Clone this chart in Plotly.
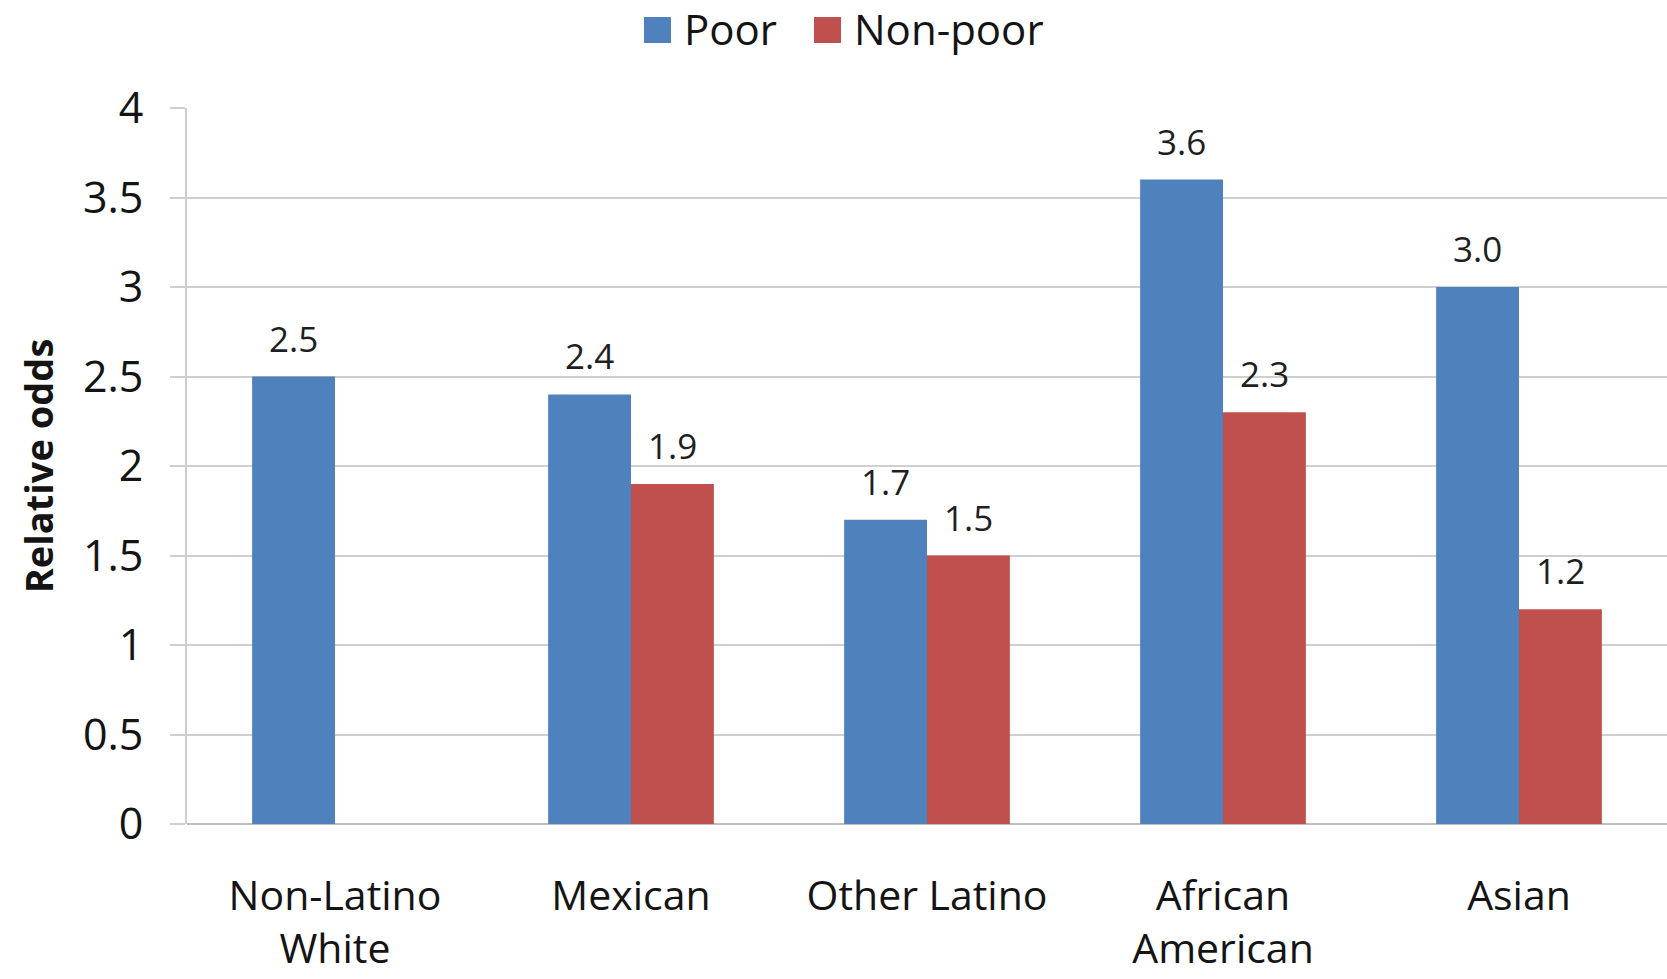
import plotly.graph_objects as go

# Relative odds by group and poverty status
categories = ["Non-Latino<br>White", "Mexican", "Other Latino", "African<br>American", "Asian"]
poor = [2.5, 2.4, 1.7, 3.6, 3.0]
non_poor = [None, 1.9, 1.5, 2.3, 1.2]
series_names = ["Poor", "Non-poor"]
y_ticks = [0, 0.5, 1, 1.5, 2, 2.5, 3, 3.5, 4]

BLUE = "#4F81BD"
RED = "#C0504D"
GRID = "#CFCFCF"
FONT = "Open Sans"
BARGAP = 0.44

W, H = 1667, 979
M = dict(l=187, r=0, t=108, b=155)

fig = go.Figure()
fig.add_trace(go.Bar(x=list(range(len(categories))), y=poor, name=series_names[0],
                     marker=dict(color=BLUE, line=dict(width=0))))
fig.add_trace(go.Bar(x=list(range(len(categories))), y=non_poor, name=series_names[1],
                     marker=dict(color=RED, line=dict(width=0))))

# value labels above each bar, placed at the bar centres of the grouped layout
bar_w = (1 - BARGAP) / 2
annotations = []
for values, off in ((poor, -bar_w / 2), (non_poor, bar_w / 2)):
    for i, v in enumerate(values):
        if v is None:
            continue
        annotations.append(dict(x=i + off, y=v, xref="x", yref="y", text=f"{v:.1f}",
                                showarrow=False, yanchor="bottom", yshift=13,
                                font=dict(family=FONT, size=35, color="#1f1f1f")))

# legend row across the top
pw, ph = W - M["l"] - M["r"], H - M["t"] - M["b"]
def px(x):
    return (x - M["l"]) / pw
def py(y):
    return (H - M["b"] - y) / ph

shapes = []
legend_items = [(series_names[0], BLUE, 644, 682), (series_names[1], RED, 814, 852)]
for name, color, sx, tx in legend_items:
    shapes.append(dict(type="rect", xref="paper", yref="paper",
                       x0=px(sx), x1=px(sx + 27), y0=py(43), y1=py(17),
                       fillcolor=color, line=dict(width=0)))
    annotations.append(dict(x=px(tx), y=py(29), xref="paper", yref="paper", text=name,
                            showarrow=False, xanchor="left", yanchor="middle",
                            font=dict(family=FONT, size=42, color="#141414")))

fig.update_layout(
    width=W, height=H,
    margin=M,
    paper_bgcolor="white", plot_bgcolor="white",
    barmode="group", bargap=BARGAP, bargroupgap=0,
    showlegend=False,
    font=dict(family=FONT, color="#141414"),
    annotations=annotations,
    shapes=shapes,
)
fig.update_xaxes(
    tickmode="array", tickvals=list(range(len(categories))), ticktext=categories,
    range=[-0.5, len(categories) - 0.5],
    showgrid=False, showline=False, zeroline=False, ticks="",
    tickfont=dict(family=FONT, size=41, color="#141414"),
    ticklabelstandoff=44, automargin=False,
)
fig.update_yaxes(
    range=[0, 4], tickmode="array", tickvals=y_ticks,
    showgrid=True, gridcolor=GRID, gridwidth=2,
    zeroline=True, zerolinecolor="#BFBFBF", zerolinewidth=2,
    showline=True, linecolor=GRID, linewidth=2,
    ticks="outside", ticklen=15, tickcolor=GRID, tickwidth=2,
    ticklabelstandoff=18, automargin=False,
    tickfont=dict(family=FONT, size=43, color="#141414"),
    title=dict(text="<b>Relative odds</b>", font=dict(family=FONT, size=38, color="#141414"),
               standoff=18),
)

fig.write_html("out.html")
